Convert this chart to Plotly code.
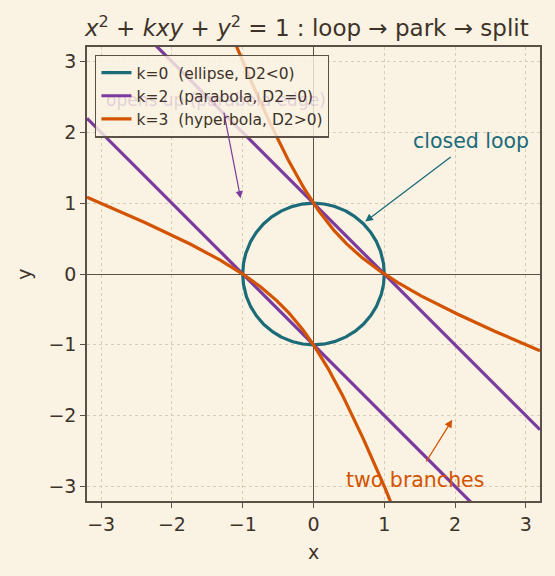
import numpy as np
import plotly.graph_objects as go

# ---- data -------------------------------------------------------------
K_VALUES = [0, 2, 3]
LABELS = ["k=0\u00a0 (ellipse, D2<0)",
          "k=2\u00a0 (parabola, D2=0)",
          "k=3\u00a0 (hyperbola, D2>0)"]
COLORS = ["#1b6b78", "#7b3b9e", "#d35400"]
TICKS = [-3, -2, -1, 0, 1, 2, 3]
AX_RANGE = [-3.2, 3.2]

BG = "#faf2e3"
INK = "#3d3329"
SPINE = "#5b5045"
GRID = "#d9cdb8"


def conic_branches(k, lim=3.2, n=800):
    """Solve x^2 + k x y + y^2 = 1 for y (the title's equation)."""
    disc_a = k * k - 4.0
    if disc_a < 0:
        xm = 2.0 / np.sqrt(-disc_a)
        t = np.linspace(np.pi, 0, n)
        x = xm * np.cos(t)
        d = np.sqrt(np.clip(disc_a * x * x + 4.0, 0, None))
        up = (-k * x + d) / 2
        lo = (-k * x - d) / 2
        xs = np.concatenate([x, x[::-1]])
        ys = np.concatenate([up, lo[::-1]])
        return [(xs, ys)]
    x = np.linspace(-lim, lim, n)
    d = np.sqrt(disc_a * x * x + 4.0)
    return [(x, (-k * x + d) / 2), (x, (-k * x - d) / 2)]


fig = go.Figure()
for k, lab, col in zip(K_VALUES, LABELS, COLORS):
    for i, (xs, ys) in enumerate(conic_branches(k)):
        fig.add_trace(go.Scatter(
            x=xs, y=ys, mode="lines", name=lab, legendgroup=lab,
            showlegend=(i == 0), line=dict(color=col, width=3.2)))

axis_common = dict(
    range=AX_RANGE, tickvals=TICKS,
    ticktext=[("\u2212" + str(-t)) if t < 0 else str(t) for t in TICKS],
    showgrid=True, gridcolor=GRID, griddash="dot", gridwidth=1,
    zeroline=True, zerolinecolor=SPINE, zerolinewidth=1.4,
    showline=True, linecolor=SPINE, linewidth=1.5, mirror=True,
    ticks="outside", ticklen=5, tickwidth=1.2, tickcolor=SPINE,
    tickfont=dict(size=19, color=INK),
)
fig.update_xaxes(**axis_common, title=dict(text="x", font=dict(size=19, color=INK), standoff=12))
fig.update_yaxes(**axis_common, title=dict(text="y", font=dict(size=19, color=INK), standoff=12),
                 scaleanchor="x", scaleratio=1)

anns = [
    dict(x=2.23, y=1.88, text="closed loop", showarrow=False,
         font=dict(size=20.5, color=COLORS[0])),
    dict(x=0.73, y=0.74, ax=1.96, ay=1.67, text="", showarrow=True,
         axref="x", ayref="y", arrowcolor=COLORS[0], arrowwidth=1.3,
         arrowhead=2, arrowsize=1.2),
    dict(x=1.43, y=-2.91, text="two branches", showarrow=False,
         font=dict(size=20.5, color=COLORS[2])),
    dict(x=1.96, y=-2.06, ax=1.58, ay=-2.67, text="", showarrow=True,
         axref="x", ayref="y", arrowcolor=COLORS[2], arrowwidth=1.3,
         arrowhead=2, arrowsize=1.2),
    dict(x=-1.38, y=2.46, text="opens up (parabola edge)", showarrow=False,
         font=dict(size=17, color="rgba(123,59,158,0.2)")),
    dict(x=-1.03, y=1.07, ax=-1.27, ay=2.3, text="", showarrow=True,
         axref="x", ayref="y", arrowcolor=COLORS[1], arrowwidth=1.2,
         arrowhead=2, arrowsize=1.2),
]

fig.update_layout(
    width=555, height=576,
    margin=dict(l=87, r=15, t=47, b=75),
    paper_bgcolor=BG, plot_bgcolor=BG,
    font=dict(family="DejaVu Sans", color=INK),
    title=dict(
        text="<i>x</i><sup>2</sup> + <i>kxy</i> + <i>y</i><sup>2</sup> = 1 : loop \u2192 park \u2192 split",
        x=0.153, xanchor="left", y=0.951, yanchor="middle",
        font=dict(size=23, color=INK)),
    legend=dict(x=0.018, y=0.983, xanchor="left", yanchor="top",
                bgcolor="rgba(250,242,227,0.82)", bordercolor=SPINE, borderwidth=1.3,
                font=dict(size=15.5, color=INK), tracegroupgap=0,
                itemwidth=30),
    annotations=anns,
    showlegend=True,
)

fig.write_html("out.html")
